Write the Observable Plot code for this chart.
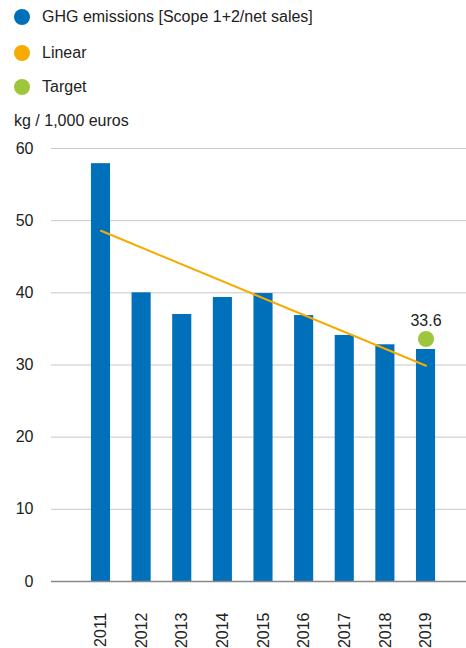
<!DOCTYPE html>
<html>
<head>
<meta charset="utf-8">
<script src="https://cdn.jsdelivr.net/npm/d3@7"></script>
<script src="https://cdn.jsdelivr.net/npm/@observablehq/plot@0.6"></script>
<style>
  html, body { margin: 0; padding: 0; background: #fff; }
  body { width: 466px; height: 648px; overflow: hidden; font-family: "Liberation Sans", Arial, sans-serif; color: #222; }
  #legend { position: relative; height: 135px; }
  .item { position: absolute; left: 14px; display: flex; align-items: center; font-size: 16px; }
  .sw { width: 16px; height: 16px; border-radius: 50%; margin-right: 12px; }
  #unit { position: absolute; left: 14px; top: 112px; font-size: 16px; }
</style>
</head>
<body>
<div id="legend"></div>
<div id="chart"></div>
<script>
const years = ["2011","2012","2013","2014","2015","2016","2017","2018","2019"];
const emissions = [57.9, 40.0, 37.0, 39.35, 39.9, 36.85, 34.1, 32.8, 32.15];
const trendYears = ["2011", "2019"];
const trendValues = [48.6, 29.9];
const targetYear = "2019";
const targetValue = 33.6;
const yTicks = [0, 10, 20, 30, 40, 50, 60];
const seriesNames = ["GHG emissions [Scope 1+2/net sales]", "Linear", "Target"];
const seriesColors = ["#0070ba", "#f7ab00", "#9dc63c"];
const unitLabel = "kg / 1,000 euros";

const legend = document.getElementById("legend");
const tops = [8, 44, 78];
seriesNames.forEach((n, i) => {
  const d = document.createElement("div");
  d.className = "item";
  d.style.top = tops[i] + "px";
  d.innerHTML = `<span class="sw" style="background:${seriesColors[i]}"></span><span>${n}</span>`;
  legend.appendChild(d);
});
const u = document.createElement("div");
u.id = "unit"; u.textContent = unitLabel;
legend.appendChild(u);

const bars = years.map((y, i) => ({year: y, value: emissions[i]}));
const trend = trendYears.map((y, i) => ({year: y, value: trendValues[i]}));
const target = [{year: targetYear, value: targetValue}];

const chart = Plot.plot({
  width: 466,
  height: 513,
  marginTop: 13,
  marginBottom: 67,
  marginLeft: 51,
  marginRight: 0,
  style: {fontFamily: "Liberation Sans, Arial, sans-serif", fontSize: "16px", color: "#222", background: "#fff"},
  x: {domain: years, range: [69.4, 456.6], padding: 0.53, round: false, label: null},
  y: {domain: [0, 60], label: null},
  marks: [
    Plot.gridY(yTicks, {stroke: "#c8c8c8", strokeOpacity: 1, strokeWidth: 1}),
    Plot.barY(bars, {x: "year", y: "value", fill: seriesColors[0]}),
    Plot.ruleY([0], {stroke: "#888", strokeWidth: 1.5}),
    Plot.line(trend, {x: "year", y: "value", stroke: seriesColors[1], strokeWidth: 2}),
    Plot.dot(target, {x: "year", y: "value", r: 8, fill: seriesColors[2], stroke: null}),
    Plot.text(target, {x: "year", y: "value", text: d => d.value.toFixed(1), dy: -18, fontSize: 16, fill: "#222"}),
    Plot.axisY(yTicks, {tickSize: 0, tickPadding: 18, fontSize: 16, label: null}),
    Plot.axisX({tickSize: 0, tickRotate: -90, tickPadding: 31, fontSize: 16, label: null})
  ]
});
document.getElementById("chart").appendChild(chart);
</script>
</body>
</html>
